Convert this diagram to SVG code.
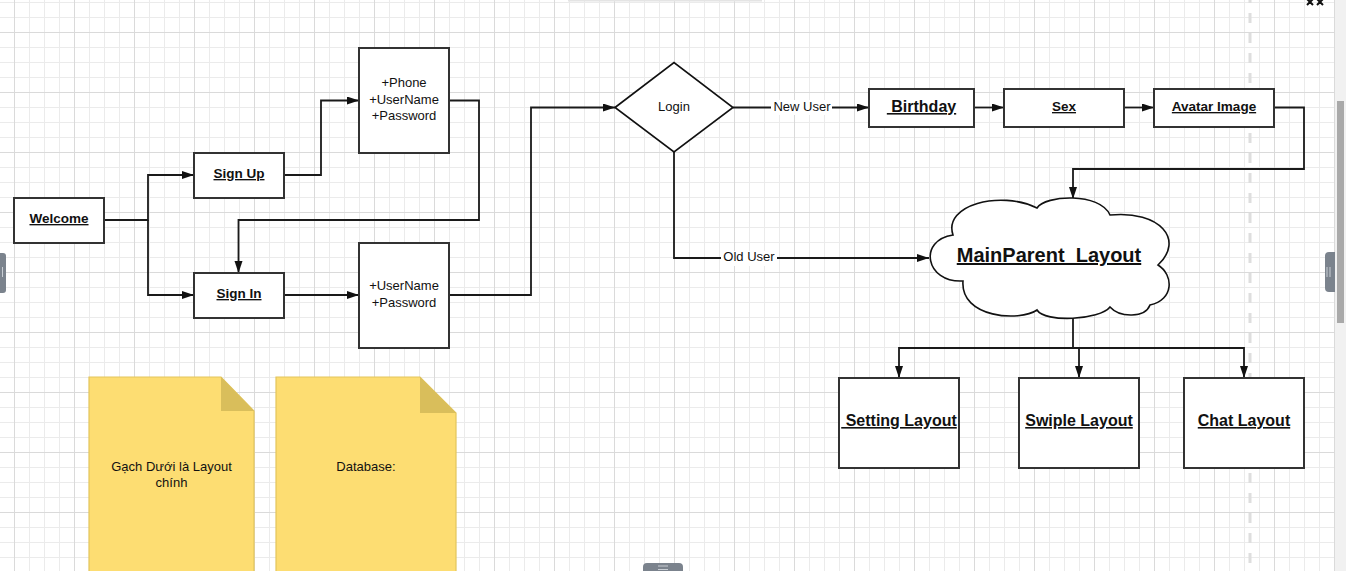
<svg xmlns="http://www.w3.org/2000/svg" width="1346" height="571" viewBox="0 0 1346 571">
<style>
.box{fill:#fff;stroke:#333;stroke-width:2}
.shape{fill:#fff;stroke:#111;stroke-width:1.6}
.con{fill:none;stroke:#1a1a1a;stroke-width:1.8}
.t{font-family:"Liberation Sans",Arial,sans-serif;fill:#111;text-anchor:middle}
.r13{font-size:13px}
.b13{font-size:13.5px;font-weight:bold;text-decoration:underline}
.b16{font-size:16px;font-weight:bold;text-decoration:underline}
.note{fill:#fddd72;stroke:#e3c55c;stroke-width:1.2}
.fold{fill:#d9be5b}
.tab{fill:#7b838d}
</style>
<defs>
<pattern id="grid" x="14" y="32" width="60" height="60" patternUnits="userSpaceOnUse">
<path d="M15.5,0V60M30.5,0V60M45.5,0V60M0,15.5H60M0,30.5H60M0,45.5H60" stroke="#ebebeb" stroke-width="1" fill="none"/>
<path d="M0.5,0V60M0,0.5H60" stroke="#dadada" stroke-width="1" fill="none"/>
</pattern>
<marker id="arr" markerUnits="userSpaceOnUse" markerWidth="13" markerHeight="9" refX="12" refY="4" orient="auto">
<path d="M0,0L12,4L0,8Z" fill="#111"/>
</marker>
</defs>
<rect width="1346" height="571" fill="#fff"/>
<rect width="1346" height="571" fill="url(#grid)"/>
<rect x="568" y="0" width="194" height="1.5" fill="#e4e4e4"/>
<line x1="1250" y1="0" x2="1250" y2="571" stroke="#dedede" stroke-width="3" stroke-dasharray="10 10" stroke-dashoffset="7"/>

<g id="connectors">
<path class="con" d="M104,220H148V175H194" marker-end="url(#arr)"/>
<path class="con" d="M148,220V295H194" marker-end="url(#arr)"/>
<path class="con" d="M284,175H321V100.5H359" marker-end="url(#arr)"/>
<path class="con" d="M449,100.5H479V220H238.5V273" marker-end="url(#arr)"/>
<path class="con" d="M284,295H359" marker-end="url(#arr)"/>
<path class="con" d="M449,295H531V107.5H615" marker-end="url(#arr)"/>
<path class="con" d="M733,107.5H869" marker-end="url(#arr)"/>
<path class="con" d="M974,107.5H1004" marker-end="url(#arr)"/>
<path class="con" d="M1124,107.5H1154" marker-end="url(#arr)"/>
<path class="con" d="M1274,107.5H1304V169H1073V199" marker-end="url(#arr)"/>
<path class="con" d="M674,152V258H929" marker-end="url(#arr)"/>
<path class="con" d="M1073,317V348H899V378" marker-end="url(#arr)"/>
<path class="con" d="M1073,348H1244V378" marker-end="url(#arr)"/>
<path class="con" d="M1079,348V378" marker-end="url(#arr)"/>
<rect x="771" y="100" width="61" height="15" fill="#fff"/>
<text class="t r13" x="802" y="111">New User</text>
<rect x="721" y="251" width="56" height="15" fill="#fff"/>
<text class="t r13" x="749" y="261">Old User</text>
</g>

<g id="welcome"><rect class="box" x="14" y="198" width="90" height="45"/><text class="t b13" x="59" y="223">Welcome</text></g>
<g id="signup"><rect class="box" x="194" y="153" width="90" height="45"/><text class="t b13" x="239" y="178">Sign Up</text></g>
<g id="signin"><rect class="box" x="194" y="273" width="90" height="45"/><text class="t b13" x="239" y="298">Sign In</text></g>
<g id="signup-fields"><rect class="box" x="359" y="48" width="90" height="105"/>
<text class="t r13" x="404" y="87">+Phone</text><text class="t r13" x="404" y="103.5">+UserName</text><text class="t r13" x="404" y="120">+Password</text></g>
<g id="signin-fields"><rect class="box" x="359" y="243" width="90" height="105"/>
<text class="t r13" x="404" y="290">+UserName</text><text class="t r13" x="404" y="307">+Password</text></g>
<g id="login"><path class="shape" d="M615,107.5L674,62.5L733,107.5L674,152Z"/><text class="t r13" x="674" y="111">Login</text></g>
<g id="birthday"><rect class="box" x="869" y="89" width="105" height="38"/><text class="t b16" x="921.5" y="112" xml:space="preserve"> Birthday</text></g>
<g id="sex"><rect class="box" x="1004" y="89" width="120" height="38"/><text class="t b13" x="1064" y="111">Sex</text></g>
<g id="avatar"><rect class="box" x="1154" y="89" width="120" height="38"/><text class="t b13" x="1214" y="111">Avatar Image</text></g>
<g id="mainparent">
<path class="shape" d="M963,281C925,283 918,240 953,235C943,205 1000,190 1037,208C1045,195 1100,192 1110,215C1160,210 1185,240 1158,265C1174,275 1174,300 1150,305C1145,318 1120,318 1110,307C1100,320 1045,323 1037,310C1020,322 960,318 963,281Z"/>
<text class="t" x="1049" y="262" style="font-size:20px;font-weight:bold;text-decoration:underline" xml:space="preserve">MainParent  Layout</text>
</g>
<g id="setting"><rect class="box" x="839" y="378" width="120" height="90"/><text class="t b16" x="899" y="426" xml:space="preserve"> Setting Layout</text></g>
<g id="swiple"><rect class="box" x="1019" y="378" width="120" height="90"/><text class="t b16" x="1079" y="426">Swiple Layout</text></g>
<g id="chat"><rect class="box" x="1184" y="378" width="120" height="90"/><text class="t b16" x="1244" y="426">Chat Layout</text></g>

<g id="note1">
<path class="note" d="M89,377H221L254,411V575H89Z"/><path class="fold" d="M221,377V411H254Z"/>
<text class="t r13" x="171.5" y="471">Gạch Dưới là Layout</text><text class="t r13" x="171.5" y="487">chính</text>
</g>
<g id="note2">
<path class="note" d="M276,377H420L456,413V575H276Z"/><path class="fold" d="M420,377V413H456Z"/>
<text class="t r13" x="366" y="471">Database:</text>
</g>

<rect x="1335" y="0" width="11" height="571" fill="#f1f1f1"/>
<rect x="1337" y="101" width="7" height="222" fill="#a9a9a9"/>
<path class="tab" d="M1335,252V292H1329Q1325,292 1325,288V256Q1325,252 1329,252Z"/>
<path d="M1327,267V277M1330,267V277" stroke="#c9ced4" stroke-width="1"/>
<path class="tab" d="M0,253H3Q6,253 6,256V290Q6,293 3,293H0Z"/>
<path d="M2.5,267V277" stroke="#c9ced4" stroke-width="1"/>
<path class="tab" d="M643,571V567Q643,563 647,563H679Q683,563 683,567V571Z"/>
<path d="M658,566H668M658,569.5H668" stroke="#c9ced4" stroke-width="1.2"/>
<path d="M1307,5L1313,-1M1313,5L1307,-1M1317,5L1323,-1M1323,5L1317,-1" stroke="#111" stroke-width="2"/>
</svg>
